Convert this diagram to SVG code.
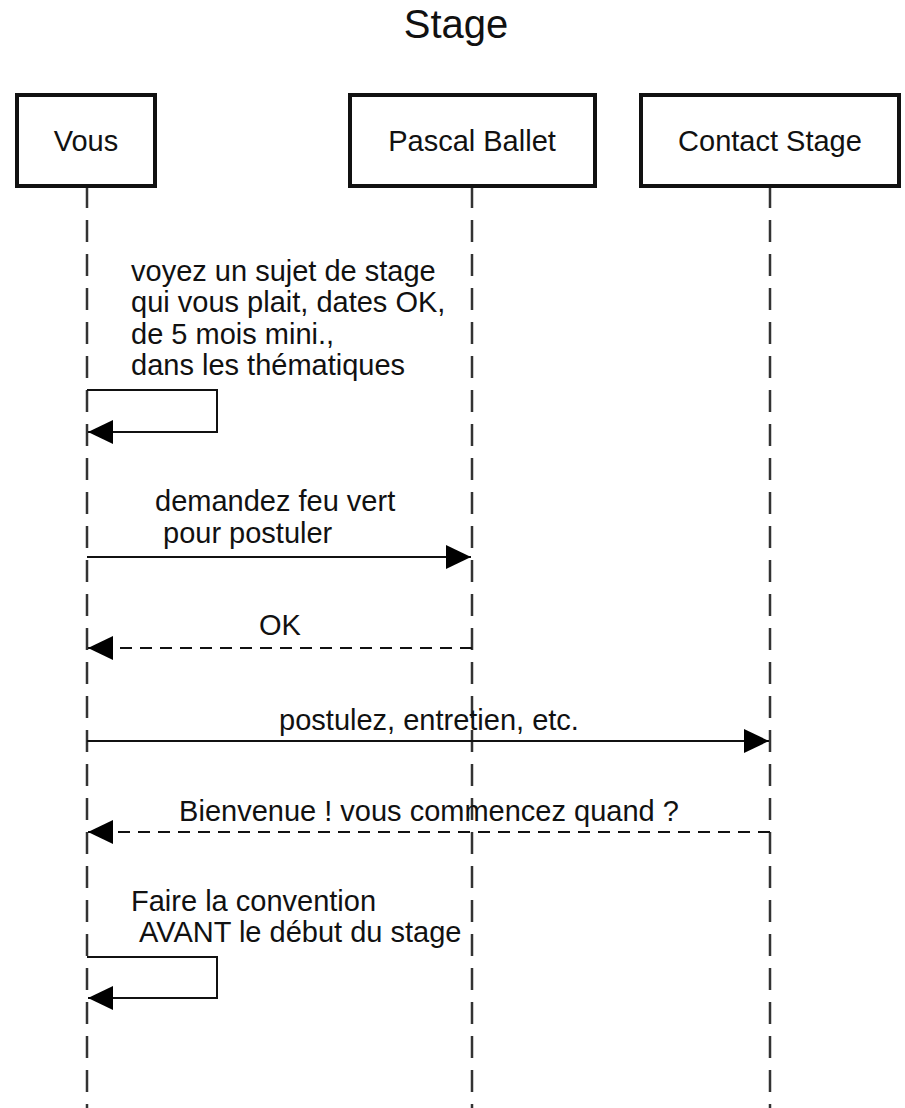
<svg xmlns="http://www.w3.org/2000/svg" width="905" height="1108" viewBox="0 0 905 1108">
<style>
text{font-family:"Liberation Sans",Arial,sans-serif;fill:#111;}
.t{font-size:29px;}
.box{fill:#fff;stroke:#111;stroke-width:4;}
.life{stroke:#333;stroke-width:2.5;stroke-dasharray:22 12;fill:none;}
.msg{stroke:#111;stroke-width:2;fill:none;}
.dash{stroke-dasharray:12 8;}
</style>
<defs>
<marker id="ah" markerUnits="userSpaceOnUse" markerWidth="26" markerHeight="26" refX="25" refY="12" orient="auto">
<path d="M0,0 L25,12 L0,24 Z" fill="#000"/>
</marker>
</defs>
<rect width="905" height="1108" fill="#fff"/>
<text x="456" y="38" text-anchor="middle" style="font-size:40px">Stage</text>
<g id="lifelines">
<line class="life" x1="87" y1="186" x2="87" y2="1108"/>
<line class="life" x1="472" y1="186" x2="472" y2="1108"/>
<line class="life" x1="770" y1="186" x2="770" y2="1108"/>
</g>
<g id="vous"><rect class="box" x="17" y="95" width="138" height="91"/><text class="t" x="86" y="151" text-anchor="middle">Vous</text></g>
<g id="pascal"><rect class="box" x="350" y="95" width="245" height="91"/><text class="t" x="472" y="151" text-anchor="middle">Pascal Ballet</text></g>
<g id="contact"><rect class="box" x="641" y="95" width="258" height="91"/><text class="t" x="770" y="151" text-anchor="middle">Contact Stage</text></g>
<g id="connectors">
<polyline class="msg" points="87,390 217,390 217,432 88,432" marker-end="url(#ah)"/>
<line class="msg" x1="87" y1="557" x2="471" y2="557" marker-end="url(#ah)"/>
<line class="msg dash" x1="472" y1="648" x2="88" y2="648" marker-end="url(#ah)"/>
<line class="msg" x1="87" y1="741" x2="769" y2="741" marker-end="url(#ah)"/>
<line class="msg dash" x1="770" y1="832" x2="88" y2="832" marker-end="url(#ah)"/>
<polyline class="msg" points="87,957 217,957 217,998 88,998" marker-end="url(#ah)"/>
</g>
<g id="labels" class="t">
<text class="t" x="131" y="281">voyez un sujet de stage</text>
<text class="t" x="131" y="312">qui vous plait, dates OK,</text>
<text class="t" x="131" y="344">de 5 mois mini.,</text>
<text class="t" x="131" y="375">dans les thématiques</text>
<text class="t" x="155" y="511">demandez feu vert</text>
<text class="t" x="163" y="543">pour postuler</text>
<text class="t" x="280" y="635" text-anchor="middle">OK</text>
<text class="t" x="429" y="730" text-anchor="middle">postulez, entretien, etc.</text>
<text class="t" x="429" y="821" text-anchor="middle">Bienvenue ! vous commencez quand ?</text>
<text class="t" x="131" y="911">Faire la convention</text>
<text class="t" x="139" y="942">AVANT le début du stage</text>
</g>
</svg>
